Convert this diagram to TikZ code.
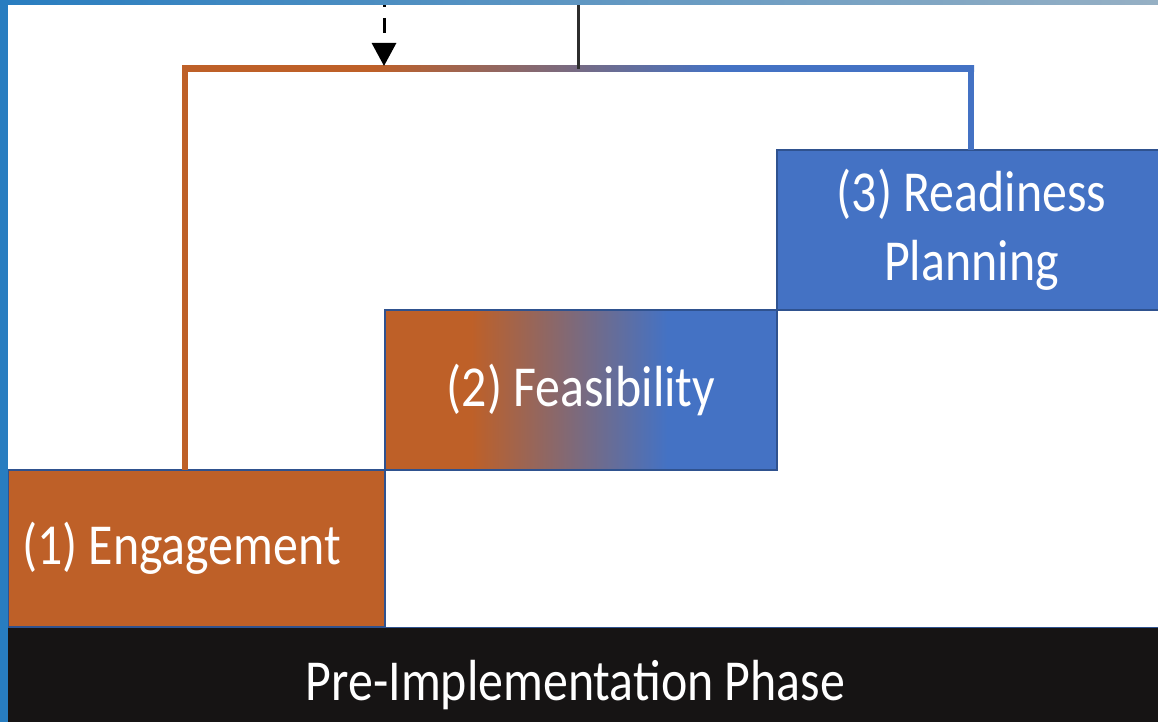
\documentclass[tikz,border=0pt]{standalone}
\usepackage{fontspec}
\setmainfont{Carlito}
\newfontfamily\labelfont[FakeStretch=0.86]{Carlito}
\usetikzlibrary{arrows.meta}

\definecolor{stageorange}{RGB}{190,96,40}
\definecolor{stageblue}{RGB}{68,114,196}
\definecolor{edgeblue}{RGB}{47,82,143}
\definecolor{barblack}{RGB}{22,20,20}
\definecolor{frameblue}{RGB}{40,125,192}
\definecolor{framegrey}{RGB}{150,176,196}
\definecolor{stemgrey}{RGB}{45,45,45}

% orange-to-blue blends (the middle 50bp span covers the filled area)
\pgfdeclarehorizontalshading{feasshade}{100bp}{color(0bp)=(stageorange); color(36bp)=(stageorange); color(61bp)=(stageblue); color(100bp)=(stageblue)}
\pgfdeclarehorizontalshading{linkshade}{100bp}{color(0bp)=(stageorange); color(37bp)=(stageorange); color(59bp)=(stageblue); color(100bp)=(stageblue)}

\tikzset{
  stagebox/.style={draw=edgeblue, line width=1.5pt, text=white, inner sep=0pt, outer sep=0pt,
    font=\labelfont\fontsize{58}{69}\selectfont, anchor=north west},
  phaselabel/.style={text=white, inner sep=0pt, font=\labelfont\fontsize{58}{69}\selectfont},
  linkline/.style={line width=6pt},
  stemline/.style={line width=3pt, stemgrey},
  dashedfeed/.style={line width=3pt, black, dash pattern=on 15pt off 11pt, dash phase=13pt,
    -{Triangle[width=24pt,length=23pt]}}
}

\begin{document}
\begin{tikzpicture}[x=1pt,y=-1pt]
\useasboundingbox (0,0) rectangle (1158,722);
\clip (0,0) rectangle (1158,722);
\fill[white] (0,0) rectangle (1158,722);

% stage boxes
\node[stagebox, fill=stageorange, minimum width=377pt, minimum height=157pt,
      text width=349pt, inner xsep=14pt, align=flush left] (eng) at (8,470) {(1) Engagement};
\node[stagebox, shade, shading=feasshade, minimum width=392pt, minimum height=160pt,
      align=center] (feas) at (385,310) {(2) Feasibility};
\node[stagebox, fill=stageblue, minimum width=389pt, minimum height=160pt,
      align=center] (ready) at (777,150) {(3) Readiness\\Planning};

% phase bar
\fill[barblack] (0,627) rectangle (1158,722);
\draw[edgeblue, line width=1.5pt] (0,627.5) -- (1158,627.5);
\node[phaselabel, anchor=base] (phase) at (575.5,700) {Pre-Implementation Phase};

% connector junctions
\coordinate (jl) at (185,69);
\coordinate (jm) at (578,69);
\coordinate (jr) at (971,69);
\coordinate (srcA) at (384,5);
\coordinate (srcB) at (578,5);

% bracket joining the first and third stages
\draw[linkline, stageorange] (jl |- eng.north) -- ([yshift=3pt]jl);
\draw[linkline, stageblue] (jr |- ready.north) -- ([yshift=3pt]jr);
\fill[shade, shading=linkshade] ([shift={(-3pt,3pt)}]jl) rectangle ([shift={(3pt,-3pt)}]jr);

% incoming lines from above
\draw[stemline] (srcB) -- (jm);
\draw[dashedfeed] (srcA) -- ([yshift=3pt]srcA |- jl);

% frame strips
\fill[left color=frameblue, right color=framegrey] (0,0) rectangle (1158,5);
\fill[frameblue] (0,0) rectangle (8,722);
\end{tikzpicture}
\end{document}
